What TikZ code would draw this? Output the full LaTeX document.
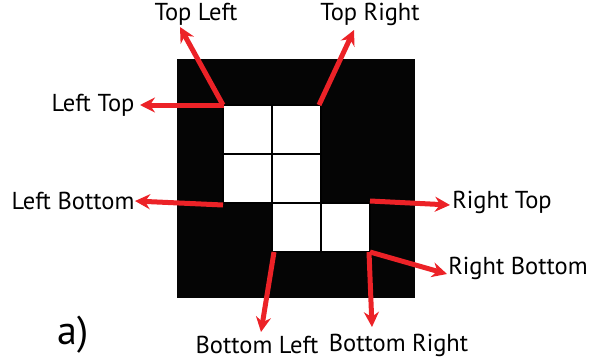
\documentclass[tikz,border=0pt]{standalone}
\usepackage{fontspec}
\setmainfont{PT Sans}
\usetikzlibrary{arrows.meta}
\definecolor{arrred}{HTML}{EC2227}
\begin{document}
\begin{tikzpicture}[x=1pt,y=-1pt,
  cell/.style={draw=black,fill=white,line width=1.3pt,minimum size=49pt,inner sep=0pt,outer sep=0pt},
  lbl/.style={font=\fontsize{24.5}{28}\selectfont,inner sep=0pt},
  arr/.style={draw=arrred,line width=5pt,-{Stealth[length=15pt,width=15pt,inset=5pt]}}]
\useasboundingbox (0,0) rectangle (600,364);
\fill[black!98] (177,59) rectangle (415,298);
\node[cell] (c11) at (247.5,129.5) {};
\node[cell] (c12) at (296.5,129.5) {};
\node[cell] (c21) at (247.5,178.5) {};
\node[cell] (c22) at (296.5,178.5) {};
\node[cell] (c32) at (296.5,227.5) {};
\node[cell] (c33) at (345.5,227.5) {};
% labels
\node[lbl] (tl) at (196,14) {Top Left};
\node[lbl] (tr) at (370,14) {Top Right};
\node[lbl] (lt) at (93,105) {Left Top};
\node[lbl] (lb) at (73,201) {Left Bottom};
\node[lbl] (rt) at (502,202) {Right Top};
\node[lbl] (rb) at (518,268) {Right Bottom};
\node[lbl] (bl) at (257,345) {Bottom Left};
\node[lbl] (br) at (398.5,345) {Bottom Right};
\node[font=\fontsize{40}{46}\selectfont,inner sep=0pt] (a) at (73,335) {a)};
% arrow tips
\coordinate (ttl) at (180,27);
\coordinate (tlt) at (140,105);
\coordinate (ttr) at (354,30);
\coordinate (tlb) at (135,201);
\coordinate (trt) at (450,205);
\coordinate (trb) at (447,274);
\coordinate (tbr) at (372,327);
\coordinate (tbl) at (261,332);
\draw[arr] (c11.north west) -- (ttl);
\draw[arr] ([xshift=1pt]c11.north west) -- (tlt);
\draw[arr] ([xshift=-2pt]c12.north east) -- (ttr);
\draw[arr] ([yshift=-2pt]c21.south west) -- (tlb);
\draw[arr] ([yshift=2pt]c33.north east) -- (trt);
\draw[arr] (c33.south east) -- (trb);
\draw[arr] ([xshift=-1pt]c33.south east) -- (tbr);
\draw[arr] ([xshift=2pt]c32.south west) -- (tbl);
\end{tikzpicture}
\end{document}
